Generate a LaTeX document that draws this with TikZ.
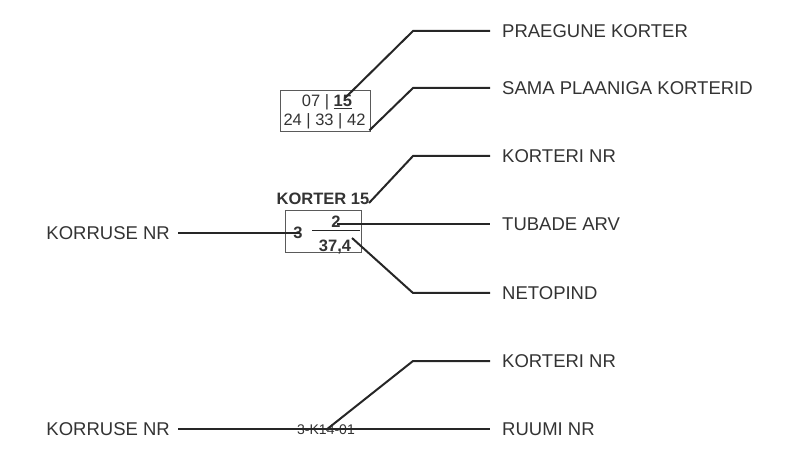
\documentclass[tikz,border=0pt]{standalone}
\usepackage{fontspec}
\setmainfont{Liberation Sans}
\definecolor{ink}{HTML}{262626}
\definecolor{label}{HTML}{333333}
\definecolor{frame}{HTML}{5A5A5A}

\newcommand{\labelsize}{\fontsize{18.5}{20}\selectfont}
\newcommand{\boxsize}{\fontsize{16.5}{18}\selectfont}

\begin{document}
\begin{tikzpicture}[x=1pt, y=-1pt, font=\boxsize, text=label,
  leader/.style={draw=ink, line width=2pt},
  tag/.style={anchor=west, inner xsep=12pt, inner ysep=0pt, font=\labelsize},
  floortag/.style={anchor=east, inner xsep=8pt, inner ysep=0pt, font=\labelsize},
  cell/.style={draw=frame, line width=.8pt, inner sep=0pt},
  figure/.style={font=\boxsize\bfseries, inner sep=0pt}]
  \useasboundingbox (0,0) rectangle (787,462);
  % right-hand labels
  \foreach \name/\y/\txt in {prev/31/PRAEGUNE KORTER, same/88/SAMA PLAANIGA KORTERID,
      aptno/156/KORTERI NR, rooms/224/TUBADE ARV, area/293/NETOPIND,
      aptnob/361/KORTERI NR, roomno/429/RUUMI NR} {
    \node[tag] (\name) at (490,\y) {\txt};
  }
  \node[floortag] (floor) at (178,233) {KORRUSE NR};
  \node[floortag] (floorb) at (178,429) {KORRUSE NR};

  % plan box
  \node[cell, minimum width=90pt, minimum height=41pt] (plan) at (325,110.5) {};
  \node (cur) at (327,102) {07 | \textbf{\underline{15}}};
  \node (alike) at (324.5,121) {24 | 33 | 42};
  \coordinate (curtip) at (345,98);
  \draw[leader] (curtip) -- ([xshift=-77pt]prev.west) -- (prev.west);
  \draw[leader] ([shift={(-1pt,1pt)}]plan.south east) -- ([xshift=-77pt]same.west) -- (same.west);

  % apartment box
  \node[figure] (title) at (323,199) {KORTER 15};
  \node[cell, minimum width=76pt, minimum height=42pt] (flat) at (323,231) {};
  \node[figure] (lvl) at (298,233) {3};
  \node[figure] (cnt) at (336,222) {2};
  \node[figure] (sqm) at (335,247) {37,4};
  \draw[draw=ink, line width=1pt] (312,231) -- (360,231);
  \coordinate (titletip) at (369,203);
  \coordinate (cnttip) at (337,224);
  \coordinate (sqmtip) at (352,238);
  \draw[leader] (titletip) -- ([xshift=-77pt]aptno.west) -- (aptno.west);
  \draw[leader] (cnttip) -- (rooms.west);
  \draw[leader] (sqmtip) -- ([xshift=-77pt]area.west) -- (area.west);
  \draw[leader] (floor.east) -- ([xshift=2pt]lvl.center);

  % room code
  \node[font=\fontsize{14}{16}\selectfont] (code) at (326,430) {3-K14-01};
  \draw[leader] (floorb.east) -- (roomno.west);
  \draw[leader] (code.center) -- ([xshift=-77pt]aptnob.west) -- (aptnob.west);
\end{tikzpicture}
\end{document}
